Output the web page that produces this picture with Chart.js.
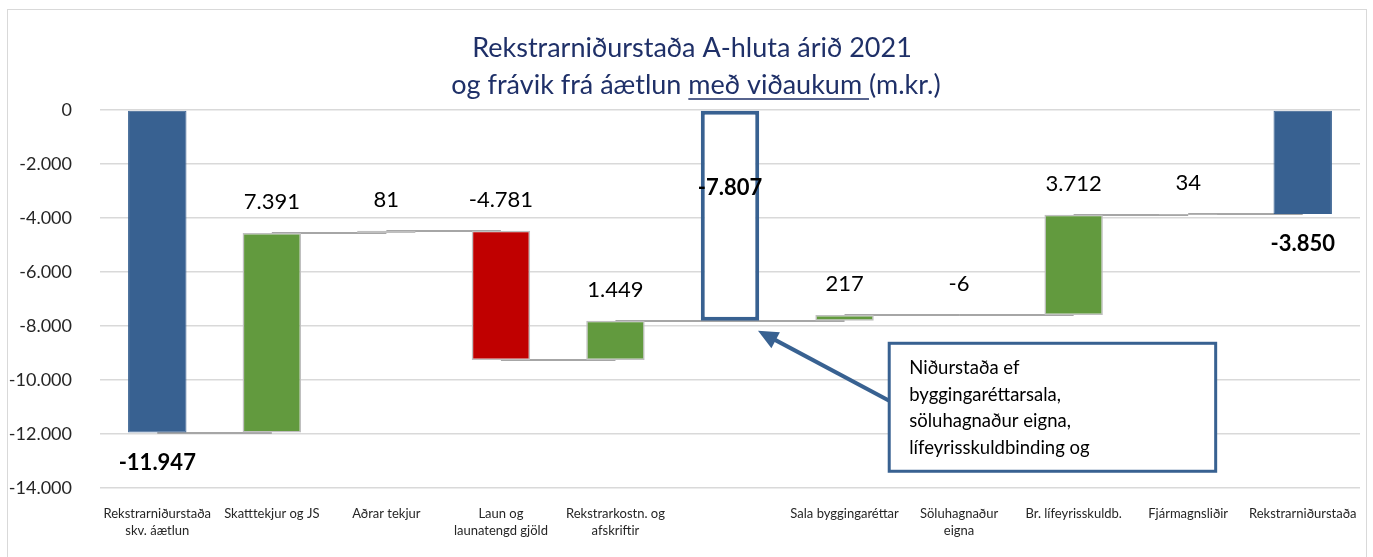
<!DOCTYPE html>
<html>
<head>
<meta charset="utf-8">
<script src="https://cdn.jsdelivr.net/npm/chart.js@4.4.1/dist/chart.umd.min.js"></script>
<style>
  html, body { margin: 0; padding: 0; background: #fff; }
</style>
</head>
<body>
<canvas id="myWaterfallChart" width="1373" height="557"></canvas>
<script>
// categories and values (m.kr.)
var categories = [
    ["Rekstrarniðurstaða", "skv. áætlun"],
    "Skatttekjur og JS",
    "Aðrar tekjur",
    ["Laun og", "launatengd gjöld"],
    ["Rekstrarkostn. og", "afskriftir"],
    "",
    "Sala byggingaréttar",
    ["Söluhagnaður", "eigna"],
    "Br. lífeyrisskuldb.",
    "Fjármagnsliðir",
    "Rekstrarniðurstaða"
];
var values = [-11947, 7391, 81, -4781, 1449, -7807, 217, -6, 3712, 34, -3850];
var isTotal = [true, false, false, false, false, true, false, false, false, false, true];
var yTicks = [0, -2000, -4000, -6000, -8000, -10000, -12000, -14000];
var titleLines = ["Rekstrarniðurstaða A-hluta árið 2021", ["og frávik frá áætlun ", "með viðaukum ", "(m.kr.)"]];
var noteLines = ["Niðurstaða ef", "byggingaréttarsala,", "söluhagnaður eigna,", "lífeyrisskuldbinding og"];

var BLUE = "#386191", GREEN = "#629A3E", RED = "#C00000";
var FONT = "Lato";

function fmt(v) {
    var s = Math.abs(v).toString().replace(/\B(?=(\d{3})+(?!\d))/g, ".");
    return (v < 0 ? "-" : "") + s;
}

// floating bars
var ranges = [], levels = [], fills = [], borders = [], widths = [];
var running = 0;
for (var i = 0; i < values.length; i++) {
    if (isTotal[i]) {
        ranges.push([0, values[i]]);
        running = values[i];
    } else {
        ranges.push([running, running + values[i]]);
        running += values[i];
    }
    levels.push(running);
    if (i === 5) { fills.push("#FFFFFF"); borders.push(BLUE); widths.push(4); }
    else if (isTotal[i]) { fills.push(BLUE); borders.push(BLUE); widths.push(1); }
    else { fills.push(values[i] < 0 ? RED : GREEN); borders.push("#BFBFBF"); widths.push(1.5); }
}

var framePlugin = {
    id: "frame",
    beforeDraw: function (chart) {
        var c = chart.ctx;
        c.save();
        c.strokeStyle = "#D9D9D9";
        c.lineWidth = 1;
        c.strokeRect(7.5, 9.5, 1359, 560);
        c.restore();
    }
};

var titlePlugin = {
    id: "twoLineTitle",
    afterDraw: function (chart) {
        var c = chart.ctx;
        c.save();
        c.fillStyle = "#1F3068";
        c.strokeStyle = "#1F3068";
        c.font = "27px " + FONT;
        c.textBaseline = "middle";
        c.textAlign = "center";
        c.fillText(titleLines[0], 692, 48);
        var parts = titleLines[1];
        var total = 0;
        parts.forEach(function (p) { total += c.measureText(p).width; });
        var x = 696 - total / 2;
        c.textAlign = "left";
        parts.forEach(function (p, k) {
            var w = c.measureText(p).width;
            c.fillText(p, x, 85);
            if (k === 1) {
                c.lineWidth = 1.5;
                c.beginPath();
                c.moveTo(x, 99);
                c.lineTo(x + w, 99);
                c.stroke();
            }
            x += w;
        });
        c.restore();
    }
};

var connectorPlugin = {
    id: "connectors",
    beforeDatasetsDraw: function (chart) {
        var c = chart.ctx, xs = chart.scales.x, ys = chart.scales.y;
        c.save();
        c.strokeStyle = "#A6A6A6";
        c.lineWidth = 2;
        for (var i = 0; i < levels.length - 1; i++) {
            var y = Math.round(ys.getPixelForValue(levels[i]));
            c.beginPath();
            c.moveTo(xs.getPixelForValue(i), y);
            c.lineTo(xs.getPixelForValue(i + 1), y);
            c.stroke();
        }
        c.restore();
    }
};

var labelPlugin = {
    id: "valueLabels",
    afterDatasetsDraw: function (chart) {
        var c = chart.ctx, xs = chart.scales.x, ys = chart.scales.y;
        c.save();
        c.fillStyle = "#000";
        c.textAlign = "center";
        c.textBaseline = "middle";
        for (var i = 0; i < values.length; i++) {
            var x = xs.getPixelForValue(i);
            var top = ys.getPixelForValue(Math.max(ranges[i][0], ranges[i][1]));
            var bottom = ys.getPixelForValue(Math.min(ranges[i][0], ranges[i][1]));
            var y;
            if (i === 5) {
                c.font = "bold 22px " + FONT;
                y = top + (bottom - top) * 0.37;
            } else if (isTotal[i]) {
                c.font = "bold 22px " + FONT;
                y = bottom + 30;
            } else {
                c.font = "22px " + FONT;
                y = top - 31;
            }
            c.fillText(fmt(values[i]), x, y);
        }
        c.restore();
    }
};

var notePlugin = {
    id: "note",
    afterDatasetsDraw: function (chart) {
        var c = chart.ctx, xs = chart.scales.x, ys = chart.scales.y;
        var bx = xs.getPixelForValue(6.39), by = ys.getPixelForValue(-8640);
        var bx2 = xs.getPixelForValue(9.24), by2 = ys.getPixelForValue(-13380);
        var tipX = xs.getPixelForValue(5) + 28, tipY = ys.getPixelForValue(-7807) + 10;
        var fromX = bx, fromY = ys.getPixelForValue(-10770);
        c.save();
        // arrow
        c.strokeStyle = BLUE;
        c.fillStyle = BLUE;
        c.lineWidth = 4;
        var ang = Math.atan2(tipY - fromY, tipX - fromX);
        c.beginPath();
        c.moveTo(fromX, fromY);
        c.lineTo(tipX - 14 * Math.cos(ang), tipY - 14 * Math.sin(ang));
        c.stroke();
        c.beginPath();
        c.moveTo(tipX, tipY);
        c.lineTo(tipX - 20 * Math.cos(ang) + 9 * Math.sin(ang), tipY - 20 * Math.sin(ang) - 9 * Math.cos(ang));
        c.lineTo(tipX - 20 * Math.cos(ang) - 9 * Math.sin(ang), tipY - 20 * Math.sin(ang) + 9 * Math.cos(ang));
        c.closePath();
        c.fill();
        // box
        c.fillStyle = "#FFFFFF";
        c.fillRect(bx, by, bx2 - bx, by2 - by);
        c.lineWidth = 3;
        c.strokeRect(bx, by, bx2 - bx, by2 - by);
        c.fillStyle = "#000";
        c.font = "18.5px " + FONT;
        c.textAlign = "left";
        c.textBaseline = "middle";
        noteLines.forEach(function (t, k) {
            c.fillText(t, bx + 20, by + 25 + k * 26.5);
        });
        c.restore();
    }
};

var myWaterfallChart = new Chart(document.getElementById("myWaterfallChart"), {
    type: "bar",
    data: {
        labels: categories,
        datasets: [{
            data: ranges,
            backgroundColor: fills,
            borderColor: borders,
            borderWidth: widths,
            borderSkipped: false,
            barPercentage: 0.51,
            categoryPercentage: 1.0
        }]
    },
    options: {
        responsive: false,
        animation: false,
        layout: { padding: { top: 110, right: 13, left: 0, bottom: 0 } },
        plugins: {
            legend: { display: false },
            tooltip: { enabled: false }
        },
        scales: {
            x: {
                grid: { display: false },
                border: { display: false },
                ticks: {
                    color: "#262626",
                    font: { family: FONT, size: 13, lineHeight: 1.25 },
                    maxRotation: 0,
                    autoSkip: false,
                    padding: 10
                },
                afterFit: function (scale) { scale.height = 69; }
            },
            y: {
                min: -14000,
                max: 0,
                afterBuildTicks: function (scale) {
                    scale.ticks = yTicks.map(function (v) { return { value: v }; });
                },
                grid: { color: "#D9D9D9", lineWidth: 1.5, drawTicks: false },
                border: { display: false },
                ticks: {
                    color: "#262626",
                    font: { family: FONT, size: 18 },
                    padding: 28,
                    callback: function (v) { return fmt(v); }
                },
                afterFit: function (scale) { scale.width = 100; }
            }
        }
    },
    plugins: [framePlugin, connectorPlugin, labelPlugin, notePlugin, titlePlugin]
});
</script>
</body>
</html>
